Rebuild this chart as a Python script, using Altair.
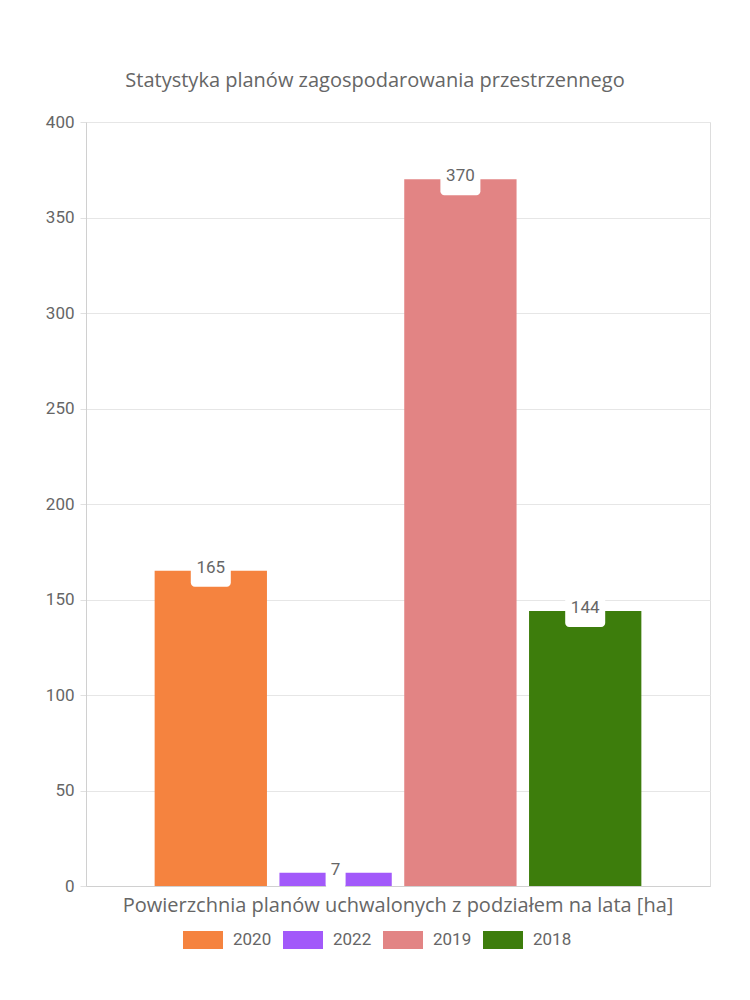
import altair as alt
import pandas as pd

series = ["2020", "2022", "2019", "2018"]
values = [165, 7, 370, 144]
colors = ["#F5833F", "#A259FA", "#E28484", "#3D7D0C"]
category = "Powierzchnia planów uchwalonych z podziałem na lata [ha]"
title = "Statystyka planów zagospodarowania przestrzennego"
y_ticks = [0, 50, 100, 150, 200, 250, 300, 350, 400]

df = pd.DataFrame({"category": [category] * len(series), "series": series, "value": values})

x_enc = alt.X("category:N", title=None,
              scale=alt.Scale(paddingInner=0, paddingOuter=0.125),
              axis=alt.Axis(labelAngle=0, ticks=False, labelFontSize=20, labelFont="Open Sans",
                            labelColor="#666666", labelPadding=9, domainColor="#d0d0d0", labelLimit=700))
xo_enc = alt.XOffset("series:N", sort=series, scale=alt.Scale(paddingInner=0.1, paddingOuter=0.05))

base = alt.Chart(df).encode(x=x_enc, xOffset=xo_enc)

y_enc = alt.Y("value:Q", title=None, scale=alt.Scale(domain=[0, 400], nice=False),
              axis=alt.Axis(values=y_ticks, labelFontSize=17, labelFont="Roboto", labelColor="#666666",
                            gridColor="#e6e6e6", tickColor="#e0e0e0", tickSize=6, labelPadding=6,
                            domainColor="#d0d0d0"))

bars = base.mark_bar().encode(
    y=y_enc,
    color=alt.Color("series:N", sort=series, scale=alt.Scale(domain=series, range=colors),
                    legend=alt.Legend(title=None, orient="none", direction="horizontal",
                                      legendX=97, legendY=798, padding=0,
                                      symbolType="M -1 -0.45 L 1 -0.45 L 1 0.45 L -1 0.45 Z",
                                      symbolSize=1600, symbolStrokeWidth=0, symbolOpacity=1,
                                      labelFontSize=17, labelFont="Roboto", labelColor="#666666",
                                      labelOffset=10, columnPadding=11))
)

big_boxes = base.transform_filter("datum.value >= 100").mark_rect(
    width=40, height=32, cornerRadius=4, color="white").encode(y="value:Q")
small_boxes = base.transform_filter("datum.value < 100").mark_rect(
    width=20, height=32, cornerRadius=4, color="white").encode(y="value:Q")

labels = base.mark_text(fontSize=17, font="Roboto", color="#666666", dy=-3).encode(
    y="value:Q", text="value:Q")

chart = alt.layer(bars, big_boxes, small_boxes, labels).properties(
    width=624, height=764,
    title=alt.TitleParams(title, fontSize=20, font="Open Sans", fontWeight="normal",
                          color="#666666", dx=-23, offset=22),
    autosize=alt.AutoSizeParams(type="none"),
    padding={"left": 86, "top": 122, "right": 40, "bottom": 114},
).configure_view(stroke="#e6e6e6").configure(background="white")

chart.save("out.html", embed_options={"renderer": "svg", "actions": False})
